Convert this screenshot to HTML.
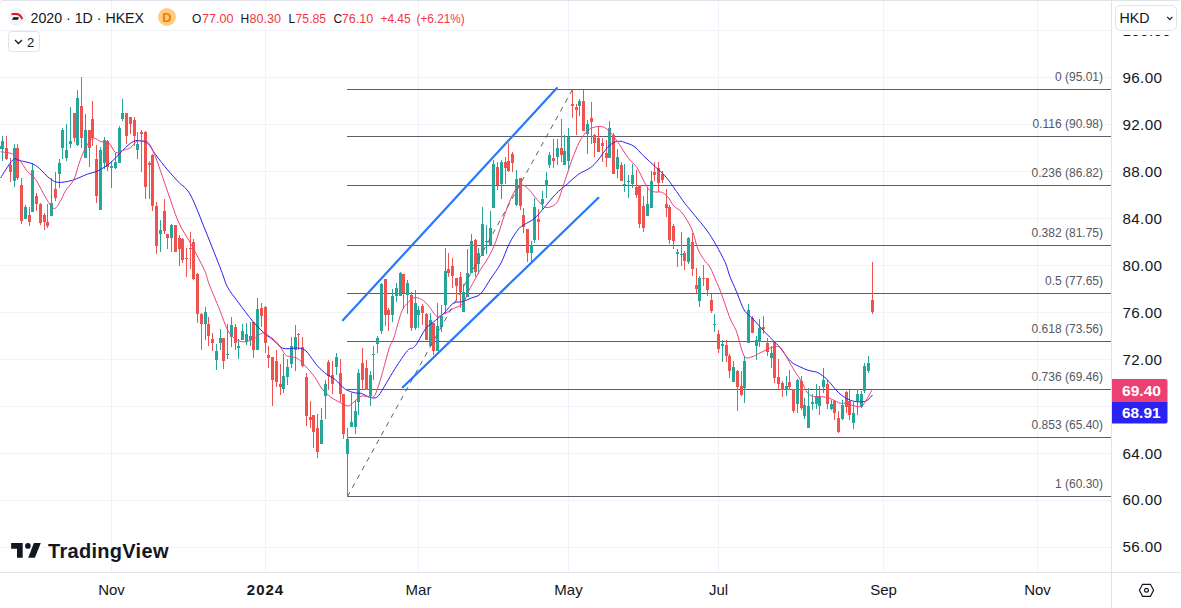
<!DOCTYPE html><html><head><meta charset="utf-8"><title>2020 HKEX chart</title><style>
html,body{margin:0;padding:0;background:#fff}
body{width:1181px;height:608px;overflow:hidden;position:relative;font-family:"Liberation Sans",sans-serif}
svg{position:absolute;left:0;top:0}
text{font-family:"Liberation Sans",sans-serif}
</style></head><body>
<svg width="1181" height="608" viewBox="0 0 1181 608">
<g shape-rendering="crispEdges" fill="#f0f3fa">
<rect x="0" y="547" width="1111" height="1"/>
<rect x="0" y="500" width="1111" height="1"/>
<rect x="0" y="453" width="1111" height="1"/>
<rect x="0" y="406" width="1111" height="1"/>
<rect x="0" y="359" width="1111" height="1"/>
<rect x="0" y="312" width="1111" height="1"/>
<rect x="0" y="265" width="1111" height="1"/>
<rect x="0" y="218" width="1111" height="1"/>
<rect x="0" y="171" width="1111" height="1"/>
<rect x="0" y="124" width="1111" height="1"/>
<rect x="0" y="77" width="1111" height="1"/>
<rect x="0" y="30" width="1111" height="1"/>
<rect x="111" y="0" width="1" height="572"/>
<rect x="265" y="0" width="1" height="572"/>
<rect x="418" y="0" width="1" height="572"/>
<rect x="568" y="0" width="1" height="572"/>
<rect x="718" y="0" width="1" height="572"/>
<rect x="883" y="0" width="1" height="572"/>
<rect x="1037" y="0" width="1" height="572"/>
</g>
<g shape-rendering="crispEdges" fill="#5d606b">
<rect x="347" y="89" width="764" height="1"/>
<rect x="347" y="136" width="764" height="1"/>
<rect x="347" y="185" width="764" height="1"/>
<rect x="347" y="245" width="764" height="1"/>
<rect x="347" y="293" width="764" height="1"/>
<rect x="347" y="341" width="764" height="1"/>
<rect x="347" y="389" width="764" height="1"/>
<rect x="347" y="437" width="764" height="1"/>
<rect x="347" y="496" width="764" height="1"/>
</g>
<g font-size="12" fill="#555863" text-anchor="end">
<text x="1103" y="81">0 (95.01)</text>
<text x="1103" y="128">0.116 (90.98)</text>
<text x="1103" y="177">0.236 (86.82)</text>
<text x="1103" y="237">0.382 (81.75)</text>
<text x="1103" y="285">0.5 (77.65)</text>
<text x="1103" y="333">0.618 (73.56)</text>
<text x="1103" y="381">0.736 (69.46)</text>
<text x="1103" y="429">0.853 (65.40)</text>
<text x="1103" y="488">1 (60.30)</text>
</g>
<g shape-rendering="crispEdges">
<rect x="-1" y="146" width="1" height="3" fill="#26a69a"/>
<rect x="-2" y="146" width="3" height="3" fill="#26a69a"/>
<rect x="2" y="136" width="1" height="25" fill="#26a69a"/>
<rect x="1" y="141" width="3" height="8" fill="#26a69a"/>
<rect x="6" y="136" width="1" height="24" fill="#ef5350"/>
<rect x="5" y="148" width="3" height="11" fill="#ef5350"/>
<rect x="10" y="158" width="1" height="24" fill="#ef5350"/>
<rect x="9" y="165" width="3" height="7" fill="#ef5350"/>
<rect x="14" y="144" width="1" height="43" fill="#26a69a"/>
<rect x="13" y="148" width="3" height="33" fill="#26a69a"/>
<rect x="17" y="144" width="1" height="36" fill="#ef5350"/>
<rect x="16" y="148" width="3" height="30" fill="#ef5350"/>
<rect x="21" y="178" width="1" height="46" fill="#ef5350"/>
<rect x="20" y="185" width="3" height="36" fill="#ef5350"/>
<rect x="25" y="205" width="1" height="14" fill="#26a69a"/>
<rect x="24" y="207" width="3" height="12" fill="#26a69a"/>
<rect x="29" y="207" width="1" height="19" fill="#ef5350"/>
<rect x="28" y="215" width="3" height="7" fill="#ef5350"/>
<rect x="32" y="163" width="1" height="49" fill="#26a69a"/>
<rect x="31" y="170" width="3" height="42" fill="#26a69a"/>
<rect x="36" y="193" width="1" height="18" fill="#ef5350"/>
<rect x="35" y="196" width="3" height="8" fill="#ef5350"/>
<rect x="40" y="203" width="1" height="22" fill="#ef5350"/>
<rect x="39" y="204" width="3" height="19" fill="#ef5350"/>
<rect x="44" y="213" width="1" height="17" fill="#ef5350"/>
<rect x="43" y="215" width="3" height="7" fill="#ef5350"/>
<rect x="47" y="204" width="1" height="24" fill="#ef5350"/>
<rect x="46" y="222" width="3" height="4" fill="#ef5350"/>
<rect x="51" y="178" width="1" height="38" fill="#26a69a"/>
<rect x="50" y="203" width="3" height="13" fill="#26a69a"/>
<rect x="55" y="172" width="1" height="29" fill="#ef5350"/>
<rect x="54" y="189" width="3" height="9" fill="#ef5350"/>
<rect x="59" y="159" width="1" height="29" fill="#26a69a"/>
<rect x="58" y="163" width="3" height="11" fill="#26a69a"/>
<rect x="62" y="128" width="1" height="31" fill="#26a69a"/>
<rect x="61" y="130" width="3" height="18" fill="#26a69a"/>
<rect x="66" y="124" width="1" height="37" fill="#26a69a"/>
<rect x="65" y="150" width="3" height="8" fill="#26a69a"/>
<rect x="70" y="107" width="1" height="41" fill="#26a69a"/>
<rect x="69" y="141" width="3" height="3" fill="#26a69a"/>
<rect x="74" y="113" width="1" height="29" fill="#ef5350"/>
<rect x="73" y="113" width="3" height="25" fill="#ef5350"/>
<rect x="77" y="90" width="1" height="56" fill="#26a69a"/>
<rect x="76" y="98" width="3" height="47" fill="#26a69a"/>
<rect x="81" y="77" width="1" height="71" fill="#ef5350"/>
<rect x="80" y="106" width="3" height="32" fill="#ef5350"/>
<rect x="85" y="114" width="1" height="44" fill="#26a69a"/>
<rect x="84" y="130" width="3" height="28" fill="#26a69a"/>
<rect x="89" y="130" width="1" height="37" fill="#ef5350"/>
<rect x="88" y="130" width="3" height="18" fill="#ef5350"/>
<rect x="92" y="101" width="1" height="45" fill="#ef5350"/>
<rect x="91" y="119" width="3" height="19" fill="#ef5350"/>
<rect x="96" y="145" width="1" height="58" fill="#ef5350"/>
<rect x="95" y="159" width="3" height="37" fill="#ef5350"/>
<rect x="100" y="147" width="1" height="63" fill="#26a69a"/>
<rect x="99" y="150" width="3" height="60" fill="#26a69a"/>
<rect x="104" y="137" width="1" height="32" fill="#26a69a"/>
<rect x="103" y="140" width="3" height="23" fill="#26a69a"/>
<rect x="107" y="140" width="1" height="31" fill="#ef5350"/>
<rect x="106" y="141" width="3" height="26" fill="#ef5350"/>
<rect x="111" y="161" width="1" height="27" fill="#26a69a"/>
<rect x="110" y="166" width="3" height="2" fill="#26a69a"/>
<rect x="115" y="153" width="1" height="16" fill="#26a69a"/>
<rect x="114" y="162" width="3" height="6" fill="#26a69a"/>
<rect x="119" y="126" width="1" height="37" fill="#26a69a"/>
<rect x="118" y="128" width="3" height="35" fill="#26a69a"/>
<rect x="122" y="99" width="1" height="22" fill="#26a69a"/>
<rect x="121" y="113" width="3" height="6" fill="#26a69a"/>
<rect x="126" y="113" width="1" height="31" fill="#ef5350"/>
<rect x="125" y="113" width="3" height="23" fill="#ef5350"/>
<rect x="130" y="117" width="1" height="17" fill="#ef5350"/>
<rect x="129" y="117" width="3" height="7" fill="#ef5350"/>
<rect x="134" y="117" width="1" height="29" fill="#ef5350"/>
<rect x="133" y="120" width="3" height="16" fill="#ef5350"/>
<rect x="137" y="132" width="1" height="27" fill="#26a69a"/>
<rect x="136" y="144" width="3" height="6" fill="#26a69a"/>
<rect x="141" y="130" width="1" height="42" fill="#ef5350"/>
<rect x="140" y="132" width="3" height="2" fill="#ef5350"/>
<rect x="145" y="131" width="1" height="68" fill="#ef5350"/>
<rect x="144" y="132" width="3" height="55" fill="#ef5350"/>
<rect x="149" y="161" width="1" height="38" fill="#ef5350"/>
<rect x="148" y="163" width="3" height="2" fill="#ef5350"/>
<rect x="152" y="154" width="1" height="57" fill="#ef5350"/>
<rect x="151" y="155" width="3" height="51" fill="#ef5350"/>
<rect x="156" y="202" width="1" height="52" fill="#ef5350"/>
<rect x="155" y="206" width="3" height="40" fill="#ef5350"/>
<rect x="160" y="220" width="1" height="32" fill="#26a69a"/>
<rect x="159" y="230" width="3" height="4" fill="#26a69a"/>
<rect x="164" y="199" width="1" height="35" fill="#ef5350"/>
<rect x="163" y="211" width="3" height="20" fill="#ef5350"/>
<rect x="167" y="234" width="1" height="15" fill="#ef5350"/>
<rect x="166" y="234" width="3" height="4" fill="#ef5350"/>
<rect x="171" y="224" width="1" height="28" fill="#26a69a"/>
<rect x="170" y="225" width="3" height="13" fill="#26a69a"/>
<rect x="175" y="225" width="1" height="27" fill="#ef5350"/>
<rect x="174" y="225" width="3" height="27" fill="#ef5350"/>
<rect x="179" y="235" width="1" height="31" fill="#ef5350"/>
<rect x="178" y="238" width="3" height="11" fill="#ef5350"/>
<rect x="182" y="238" width="1" height="25" fill="#ef5350"/>
<rect x="181" y="239" width="3" height="21" fill="#ef5350"/>
<rect x="186" y="248" width="1" height="29" fill="#ef5350"/>
<rect x="185" y="258" width="3" height="1" fill="#ef5350"/>
<rect x="190" y="232" width="1" height="37" fill="#ef5350"/>
<rect x="189" y="248" width="3" height="1" fill="#ef5350"/>
<rect x="193" y="239" width="1" height="41" fill="#ef5350"/>
<rect x="192" y="242" width="3" height="37" fill="#ef5350"/>
<rect x="197" y="273" width="1" height="50" fill="#ef5350"/>
<rect x="196" y="274" width="3" height="40" fill="#ef5350"/>
<rect x="201" y="313" width="1" height="37" fill="#ef5350"/>
<rect x="200" y="314" width="3" height="10" fill="#ef5350"/>
<rect x="205" y="307" width="1" height="33" fill="#26a69a"/>
<rect x="204" y="312" width="3" height="12" fill="#26a69a"/>
<rect x="208" y="317" width="1" height="29" fill="#ef5350"/>
<rect x="207" y="324" width="3" height="12" fill="#ef5350"/>
<rect x="212" y="333" width="1" height="18" fill="#ef5350"/>
<rect x="211" y="339" width="3" height="4" fill="#ef5350"/>
<rect x="216" y="344" width="1" height="26" fill="#26a69a"/>
<rect x="215" y="351" width="3" height="9" fill="#26a69a"/>
<rect x="220" y="329" width="1" height="21" fill="#26a69a"/>
<rect x="219" y="338" width="3" height="5" fill="#26a69a"/>
<rect x="223" y="338" width="1" height="31" fill="#ef5350"/>
<rect x="222" y="338" width="3" height="23" fill="#ef5350"/>
<rect x="227" y="324" width="1" height="35" fill="#26a69a"/>
<rect x="226" y="354" width="3" height="1" fill="#26a69a"/>
<rect x="231" y="317" width="1" height="30" fill="#26a69a"/>
<rect x="230" y="325" width="3" height="12" fill="#26a69a"/>
<rect x="235" y="324" width="1" height="26" fill="#ef5350"/>
<rect x="234" y="327" width="3" height="16" fill="#ef5350"/>
<rect x="238" y="339" width="1" height="20" fill="#26a69a"/>
<rect x="237" y="346" width="3" height="2" fill="#26a69a"/>
<rect x="242" y="324" width="1" height="16" fill="#26a69a"/>
<rect x="241" y="331" width="3" height="9" fill="#26a69a"/>
<rect x="246" y="323" width="1" height="22" fill="#26a69a"/>
<rect x="245" y="334" width="3" height="8" fill="#26a69a"/>
<rect x="250" y="322" width="1" height="24" fill="#26a69a"/>
<rect x="249" y="336" width="3" height="4" fill="#26a69a"/>
<rect x="253" y="322" width="1" height="36" fill="#ef5350"/>
<rect x="252" y="322" width="3" height="28" fill="#ef5350"/>
<rect x="257" y="298" width="1" height="52" fill="#26a69a"/>
<rect x="256" y="309" width="3" height="41" fill="#26a69a"/>
<rect x="261" y="303" width="1" height="24" fill="#ef5350"/>
<rect x="260" y="308" width="3" height="8" fill="#ef5350"/>
<rect x="265" y="306" width="1" height="47" fill="#ef5350"/>
<rect x="264" y="307" width="3" height="36" fill="#ef5350"/>
<rect x="268" y="346" width="1" height="22" fill="#ef5350"/>
<rect x="267" y="355" width="3" height="3" fill="#ef5350"/>
<rect x="272" y="357" width="1" height="49" fill="#ef5350"/>
<rect x="271" y="357" width="3" height="23" fill="#ef5350"/>
<rect x="276" y="350" width="1" height="37" fill="#ef5350"/>
<rect x="275" y="361" width="3" height="21" fill="#ef5350"/>
<rect x="280" y="364" width="1" height="31" fill="#ef5350"/>
<rect x="279" y="384" width="3" height="3" fill="#ef5350"/>
<rect x="283" y="354" width="1" height="39" fill="#26a69a"/>
<rect x="282" y="376" width="3" height="13" fill="#26a69a"/>
<rect x="287" y="359" width="1" height="26" fill="#26a69a"/>
<rect x="286" y="367" width="3" height="10" fill="#26a69a"/>
<rect x="291" y="337" width="1" height="31" fill="#26a69a"/>
<rect x="290" y="346" width="3" height="18" fill="#26a69a"/>
<rect x="295" y="325" width="1" height="46" fill="#26a69a"/>
<rect x="294" y="337" width="3" height="13" fill="#26a69a"/>
<rect x="298" y="333" width="1" height="17" fill="#ef5350"/>
<rect x="297" y="334" width="3" height="1" fill="#ef5350"/>
<rect x="302" y="337" width="1" height="30" fill="#ef5350"/>
<rect x="301" y="347" width="3" height="19" fill="#ef5350"/>
<rect x="306" y="373" width="1" height="53" fill="#ef5350"/>
<rect x="305" y="377" width="3" height="39" fill="#ef5350"/>
<rect x="310" y="401" width="1" height="27" fill="#ef5350"/>
<rect x="309" y="417" width="3" height="3" fill="#ef5350"/>
<rect x="313" y="415" width="1" height="33" fill="#ef5350"/>
<rect x="312" y="415" width="3" height="17" fill="#ef5350"/>
<rect x="317" y="414" width="1" height="44" fill="#ef5350"/>
<rect x="316" y="428" width="3" height="24" fill="#ef5350"/>
<rect x="321" y="408" width="1" height="36" fill="#26a69a"/>
<rect x="320" y="420" width="3" height="24" fill="#26a69a"/>
<rect x="325" y="380" width="1" height="39" fill="#26a69a"/>
<rect x="324" y="384" width="3" height="12" fill="#26a69a"/>
<rect x="328" y="360" width="1" height="30" fill="#ef5350"/>
<rect x="327" y="362" width="3" height="14" fill="#ef5350"/>
<rect x="332" y="361" width="1" height="33" fill="#ef5350"/>
<rect x="331" y="375" width="3" height="9" fill="#ef5350"/>
<rect x="336" y="353" width="1" height="22" fill="#26a69a"/>
<rect x="335" y="357" width="3" height="10" fill="#26a69a"/>
<rect x="340" y="359" width="1" height="43" fill="#ef5350"/>
<rect x="339" y="373" width="3" height="21" fill="#ef5350"/>
<rect x="343" y="394" width="1" height="45" fill="#ef5350"/>
<rect x="342" y="394" width="3" height="40" fill="#ef5350"/>
<rect x="347" y="428" width="1" height="69" fill="#26a69a"/>
<rect x="346" y="439" width="3" height="15" fill="#26a69a"/>
<rect x="351" y="393" width="1" height="34" fill="#26a69a"/>
<rect x="350" y="422" width="3" height="5" fill="#26a69a"/>
<rect x="355" y="400" width="1" height="34" fill="#26a69a"/>
<rect x="354" y="411" width="3" height="16" fill="#26a69a"/>
<rect x="358" y="369" width="1" height="46" fill="#26a69a"/>
<rect x="357" y="373" width="3" height="29" fill="#26a69a"/>
<rect x="362" y="348" width="1" height="42" fill="#ef5350"/>
<rect x="361" y="363" width="3" height="17" fill="#ef5350"/>
<rect x="366" y="360" width="1" height="30" fill="#ef5350"/>
<rect x="365" y="368" width="3" height="22" fill="#ef5350"/>
<rect x="370" y="371" width="1" height="35" fill="#26a69a"/>
<rect x="369" y="375" width="3" height="21" fill="#26a69a"/>
<rect x="373" y="346" width="1" height="34" fill="#26a69a"/>
<rect x="372" y="354" width="3" height="1" fill="#26a69a"/>
<rect x="377" y="336" width="1" height="17" fill="#26a69a"/>
<rect x="376" y="338" width="3" height="6" fill="#26a69a"/>
<rect x="381" y="283" width="1" height="51" fill="#26a69a"/>
<rect x="380" y="284" width="3" height="47" fill="#26a69a"/>
<rect x="385" y="279" width="1" height="47" fill="#ef5350"/>
<rect x="384" y="279" width="3" height="36" fill="#ef5350"/>
<rect x="388" y="308" width="1" height="23" fill="#ef5350"/>
<rect x="387" y="310" width="3" height="5" fill="#ef5350"/>
<rect x="392" y="289" width="1" height="33" fill="#26a69a"/>
<rect x="391" y="296" width="3" height="19" fill="#26a69a"/>
<rect x="396" y="283" width="1" height="19" fill="#26a69a"/>
<rect x="395" y="288" width="3" height="8" fill="#26a69a"/>
<rect x="400" y="272" width="1" height="24" fill="#26a69a"/>
<rect x="399" y="273" width="3" height="23" fill="#26a69a"/>
<rect x="403" y="274" width="1" height="35" fill="#ef5350"/>
<rect x="402" y="274" width="3" height="19" fill="#ef5350"/>
<rect x="407" y="280" width="1" height="34" fill="#26a69a"/>
<rect x="406" y="283" width="3" height="12" fill="#26a69a"/>
<rect x="411" y="292" width="1" height="39" fill="#ef5350"/>
<rect x="410" y="295" width="3" height="33" fill="#ef5350"/>
<rect x="415" y="290" width="1" height="40" fill="#26a69a"/>
<rect x="414" y="303" width="3" height="25" fill="#26a69a"/>
<rect x="418" y="306" width="1" height="22" fill="#26a69a"/>
<rect x="417" y="310" width="3" height="5" fill="#26a69a"/>
<rect x="422" y="304" width="1" height="21" fill="#ef5350"/>
<rect x="421" y="306" width="3" height="7" fill="#ef5350"/>
<rect x="426" y="313" width="1" height="27" fill="#ef5350"/>
<rect x="425" y="314" width="3" height="26" fill="#ef5350"/>
<rect x="430" y="313" width="1" height="33" fill="#26a69a"/>
<rect x="429" y="320" width="3" height="26" fill="#26a69a"/>
<rect x="433" y="323" width="1" height="32" fill="#ef5350"/>
<rect x="432" y="323" width="3" height="28" fill="#ef5350"/>
<rect x="437" y="303" width="1" height="48" fill="#26a69a"/>
<rect x="436" y="326" width="3" height="25" fill="#26a69a"/>
<rect x="441" y="305" width="1" height="27" fill="#26a69a"/>
<rect x="440" y="316" width="3" height="11" fill="#26a69a"/>
<rect x="445" y="248" width="1" height="66" fill="#26a69a"/>
<rect x="444" y="271" width="3" height="34" fill="#26a69a"/>
<rect x="448" y="253" width="1" height="24" fill="#ef5350"/>
<rect x="447" y="269" width="3" height="4" fill="#ef5350"/>
<rect x="452" y="258" width="1" height="30" fill="#ef5350"/>
<rect x="451" y="266" width="3" height="10" fill="#ef5350"/>
<rect x="456" y="278" width="1" height="23" fill="#ef5350"/>
<rect x="455" y="278" width="3" height="8" fill="#ef5350"/>
<rect x="460" y="272" width="1" height="36" fill="#ef5350"/>
<rect x="459" y="277" width="3" height="15" fill="#ef5350"/>
<rect x="463" y="284" width="1" height="28" fill="#26a69a"/>
<rect x="462" y="292" width="3" height="20" fill="#26a69a"/>
<rect x="467" y="249" width="1" height="48" fill="#26a69a"/>
<rect x="466" y="273" width="3" height="24" fill="#26a69a"/>
<rect x="471" y="234" width="1" height="39" fill="#26a69a"/>
<rect x="470" y="241" width="3" height="32" fill="#26a69a"/>
<rect x="475" y="239" width="1" height="38" fill="#ef5350"/>
<rect x="474" y="240" width="3" height="32" fill="#ef5350"/>
<rect x="478" y="248" width="1" height="26" fill="#26a69a"/>
<rect x="477" y="253" width="3" height="11" fill="#26a69a"/>
<rect x="482" y="207" width="1" height="49" fill="#26a69a"/>
<rect x="481" y="224" width="3" height="32" fill="#26a69a"/>
<rect x="486" y="225" width="1" height="29" fill="#26a69a"/>
<rect x="485" y="241" width="3" height="1" fill="#26a69a"/>
<rect x="490" y="211" width="1" height="34" fill="#26a69a"/>
<rect x="489" y="228" width="3" height="17" fill="#26a69a"/>
<rect x="493" y="160" width="1" height="48" fill="#26a69a"/>
<rect x="492" y="164" width="3" height="44" fill="#26a69a"/>
<rect x="497" y="162" width="1" height="28" fill="#ef5350"/>
<rect x="496" y="167" width="3" height="18" fill="#ef5350"/>
<rect x="501" y="160" width="1" height="39" fill="#26a69a"/>
<rect x="500" y="162" width="3" height="22" fill="#26a69a"/>
<rect x="505" y="157" width="1" height="27" fill="#ef5350"/>
<rect x="504" y="162" width="3" height="6" fill="#ef5350"/>
<rect x="508" y="143" width="1" height="29" fill="#ef5350"/>
<rect x="507" y="161" width="3" height="10" fill="#ef5350"/>
<rect x="512" y="152" width="1" height="20" fill="#ef5350"/>
<rect x="511" y="154" width="3" height="9" fill="#ef5350"/>
<rect x="516" y="170" width="1" height="36" fill="#26a69a"/>
<rect x="515" y="179" width="3" height="26" fill="#26a69a"/>
<rect x="520" y="178" width="1" height="32" fill="#ef5350"/>
<rect x="519" y="178" width="3" height="28" fill="#ef5350"/>
<rect x="523" y="208" width="1" height="25" fill="#ef5350"/>
<rect x="522" y="215" width="3" height="12" fill="#ef5350"/>
<rect x="527" y="229" width="1" height="33" fill="#ef5350"/>
<rect x="526" y="229" width="3" height="24" fill="#ef5350"/>
<rect x="531" y="241" width="1" height="22" fill="#26a69a"/>
<rect x="530" y="246" width="3" height="7" fill="#26a69a"/>
<rect x="534" y="198" width="1" height="45" fill="#26a69a"/>
<rect x="533" y="207" width="3" height="33" fill="#26a69a"/>
<rect x="538" y="209" width="1" height="31" fill="#ef5350"/>
<rect x="537" y="219" width="3" height="3" fill="#ef5350"/>
<rect x="542" y="191" width="1" height="18" fill="#26a69a"/>
<rect x="541" y="199" width="3" height="5" fill="#26a69a"/>
<rect x="546" y="172" width="1" height="26" fill="#26a69a"/>
<rect x="545" y="180" width="3" height="6" fill="#26a69a"/>
<rect x="549" y="152" width="1" height="16" fill="#26a69a"/>
<rect x="548" y="155" width="3" height="10" fill="#26a69a"/>
<rect x="553" y="139" width="1" height="29" fill="#ef5350"/>
<rect x="552" y="158" width="3" height="3" fill="#ef5350"/>
<rect x="557" y="139" width="1" height="26" fill="#26a69a"/>
<rect x="556" y="148" width="3" height="9" fill="#26a69a"/>
<rect x="561" y="119" width="1" height="43" fill="#ef5350"/>
<rect x="560" y="148" width="3" height="7" fill="#ef5350"/>
<rect x="564" y="135" width="1" height="30" fill="#26a69a"/>
<rect x="563" y="151" width="3" height="14" fill="#26a69a"/>
<rect x="568" y="128" width="1" height="42" fill="#26a69a"/>
<rect x="567" y="137" width="3" height="24" fill="#26a69a"/>
<rect x="572" y="90" width="1" height="28" fill="#ef5350"/>
<rect x="571" y="104" width="3" height="2" fill="#ef5350"/>
<rect x="576" y="104" width="1" height="31" fill="#ef5350"/>
<rect x="575" y="107" width="3" height="3" fill="#ef5350"/>
<rect x="579" y="99" width="1" height="17" fill="#26a69a"/>
<rect x="578" y="101" width="3" height="5" fill="#26a69a"/>
<rect x="583" y="90" width="1" height="41" fill="#ef5350"/>
<rect x="582" y="101" width="3" height="30" fill="#ef5350"/>
<rect x="587" y="120" width="1" height="34" fill="#26a69a"/>
<rect x="586" y="124" width="3" height="10" fill="#26a69a"/>
<rect x="591" y="102" width="1" height="42" fill="#ef5350"/>
<rect x="590" y="118" width="3" height="4" fill="#ef5350"/>
<rect x="594" y="134" width="1" height="23" fill="#ef5350"/>
<rect x="593" y="135" width="3" height="8" fill="#ef5350"/>
<rect x="598" y="126" width="1" height="26" fill="#ef5350"/>
<rect x="597" y="138" width="3" height="14" fill="#ef5350"/>
<rect x="602" y="138" width="1" height="24" fill="#ef5350"/>
<rect x="601" y="143" width="3" height="3" fill="#ef5350"/>
<rect x="606" y="140" width="1" height="27" fill="#ef5350"/>
<rect x="605" y="153" width="3" height="5" fill="#ef5350"/>
<rect x="609" y="121" width="1" height="37" fill="#26a69a"/>
<rect x="608" y="128" width="3" height="30" fill="#26a69a"/>
<rect x="613" y="133" width="1" height="41" fill="#ef5350"/>
<rect x="612" y="135" width="3" height="39" fill="#ef5350"/>
<rect x="617" y="149" width="1" height="29" fill="#26a69a"/>
<rect x="616" y="157" width="3" height="12" fill="#26a69a"/>
<rect x="621" y="162" width="1" height="19" fill="#ef5350"/>
<rect x="620" y="165" width="3" height="16" fill="#ef5350"/>
<rect x="624" y="164" width="1" height="28" fill="#26a69a"/>
<rect x="623" y="184" width="3" height="1" fill="#26a69a"/>
<rect x="628" y="175" width="1" height="23" fill="#26a69a"/>
<rect x="627" y="181" width="3" height="1" fill="#26a69a"/>
<rect x="632" y="164" width="1" height="24" fill="#26a69a"/>
<rect x="631" y="175" width="3" height="9" fill="#26a69a"/>
<rect x="636" y="170" width="1" height="28" fill="#ef5350"/>
<rect x="635" y="187" width="3" height="8" fill="#ef5350"/>
<rect x="639" y="185" width="1" height="43" fill="#ef5350"/>
<rect x="638" y="185" width="3" height="39" fill="#ef5350"/>
<rect x="643" y="196" width="1" height="36" fill="#ef5350"/>
<rect x="642" y="206" width="3" height="22" fill="#ef5350"/>
<rect x="647" y="187" width="1" height="29" fill="#26a69a"/>
<rect x="646" y="204" width="3" height="12" fill="#26a69a"/>
<rect x="651" y="171" width="1" height="37" fill="#26a69a"/>
<rect x="650" y="181" width="3" height="27" fill="#26a69a"/>
<rect x="654" y="162" width="1" height="19" fill="#ef5350"/>
<rect x="653" y="172" width="3" height="3" fill="#ef5350"/>
<rect x="658" y="162" width="1" height="30" fill="#ef5350"/>
<rect x="657" y="168" width="3" height="15" fill="#ef5350"/>
<rect x="662" y="171" width="1" height="12" fill="#ef5350"/>
<rect x="661" y="174" width="3" height="6" fill="#ef5350"/>
<rect x="666" y="189" width="1" height="28" fill="#ef5350"/>
<rect x="665" y="204" width="3" height="4" fill="#ef5350"/>
<rect x="669" y="205" width="1" height="39" fill="#ef5350"/>
<rect x="668" y="207" width="3" height="33" fill="#ef5350"/>
<rect x="673" y="224" width="1" height="25" fill="#ef5350"/>
<rect x="672" y="226" width="3" height="15" fill="#ef5350"/>
<rect x="677" y="249" width="1" height="18" fill="#26a69a"/>
<rect x="676" y="252" width="3" height="2" fill="#26a69a"/>
<rect x="681" y="232" width="1" height="34" fill="#26a69a"/>
<rect x="680" y="254" width="3" height="1" fill="#26a69a"/>
<rect x="684" y="251" width="1" height="19" fill="#ef5350"/>
<rect x="683" y="253" width="3" height="8" fill="#ef5350"/>
<rect x="688" y="237" width="1" height="27" fill="#26a69a"/>
<rect x="687" y="238" width="3" height="24" fill="#26a69a"/>
<rect x="692" y="233" width="1" height="43" fill="#ef5350"/>
<rect x="691" y="242" width="3" height="27" fill="#ef5350"/>
<rect x="696" y="268" width="1" height="25" fill="#ef5350"/>
<rect x="695" y="285" width="3" height="4" fill="#ef5350"/>
<rect x="699" y="276" width="1" height="31" fill="#26a69a"/>
<rect x="698" y="278" width="3" height="23" fill="#26a69a"/>
<rect x="703" y="265" width="1" height="21" fill="#ef5350"/>
<rect x="702" y="278" width="3" height="1" fill="#ef5350"/>
<rect x="707" y="278" width="1" height="18" fill="#ef5350"/>
<rect x="706" y="278" width="3" height="12" fill="#ef5350"/>
<rect x="711" y="294" width="1" height="19" fill="#ef5350"/>
<rect x="710" y="300" width="3" height="11" fill="#ef5350"/>
<rect x="714" y="314" width="1" height="18" fill="#26a69a"/>
<rect x="713" y="324" width="3" height="1" fill="#26a69a"/>
<rect x="718" y="330" width="1" height="23" fill="#ef5350"/>
<rect x="717" y="334" width="3" height="15" fill="#ef5350"/>
<rect x="722" y="340" width="1" height="22" fill="#26a69a"/>
<rect x="721" y="344" width="3" height="2" fill="#26a69a"/>
<rect x="726" y="340" width="1" height="22" fill="#ef5350"/>
<rect x="725" y="345" width="3" height="11" fill="#ef5350"/>
<rect x="729" y="354" width="1" height="24" fill="#ef5350"/>
<rect x="728" y="356" width="3" height="15" fill="#ef5350"/>
<rect x="733" y="361" width="1" height="21" fill="#26a69a"/>
<rect x="732" y="367" width="3" height="15" fill="#26a69a"/>
<rect x="737" y="370" width="1" height="41" fill="#ef5350"/>
<rect x="736" y="371" width="3" height="16" fill="#ef5350"/>
<rect x="741" y="371" width="1" height="25" fill="#ef5350"/>
<rect x="740" y="386" width="3" height="9" fill="#ef5350"/>
<rect x="744" y="356" width="1" height="47" fill="#26a69a"/>
<rect x="743" y="361" width="3" height="27" fill="#26a69a"/>
<rect x="748" y="304" width="1" height="39" fill="#26a69a"/>
<rect x="747" y="310" width="3" height="33" fill="#26a69a"/>
<rect x="752" y="316" width="1" height="17" fill="#ef5350"/>
<rect x="751" y="318" width="3" height="15" fill="#ef5350"/>
<rect x="756" y="336" width="1" height="24" fill="#26a69a"/>
<rect x="755" y="340" width="3" height="6" fill="#26a69a"/>
<rect x="759" y="319" width="1" height="28" fill="#26a69a"/>
<rect x="758" y="328" width="3" height="14" fill="#26a69a"/>
<rect x="763" y="316" width="1" height="18" fill="#ef5350"/>
<rect x="762" y="327" width="3" height="2" fill="#ef5350"/>
<rect x="767" y="338" width="1" height="18" fill="#ef5350"/>
<rect x="766" y="343" width="3" height="9" fill="#ef5350"/>
<rect x="771" y="346" width="1" height="22" fill="#26a69a"/>
<rect x="770" y="353" width="3" height="5" fill="#26a69a"/>
<rect x="774" y="341" width="1" height="42" fill="#ef5350"/>
<rect x="773" y="341" width="3" height="37" fill="#ef5350"/>
<rect x="778" y="359" width="1" height="30" fill="#ef5350"/>
<rect x="777" y="377" width="3" height="7" fill="#ef5350"/>
<rect x="782" y="381" width="1" height="16" fill="#ef5350"/>
<rect x="781" y="383" width="3" height="7" fill="#ef5350"/>
<rect x="786" y="376" width="1" height="20" fill="#26a69a"/>
<rect x="785" y="386" width="3" height="4" fill="#26a69a"/>
<rect x="789" y="370" width="1" height="20" fill="#ef5350"/>
<rect x="788" y="382" width="3" height="5" fill="#ef5350"/>
<rect x="793" y="389" width="1" height="24" fill="#ef5350"/>
<rect x="792" y="389" width="3" height="22" fill="#ef5350"/>
<rect x="797" y="379" width="1" height="34" fill="#26a69a"/>
<rect x="796" y="380" width="3" height="24" fill="#26a69a"/>
<rect x="801" y="376" width="1" height="34" fill="#ef5350"/>
<rect x="800" y="381" width="3" height="27" fill="#ef5350"/>
<rect x="804" y="398" width="1" height="21" fill="#26a69a"/>
<rect x="803" y="405" width="3" height="11" fill="#26a69a"/>
<rect x="808" y="388" width="1" height="40" fill="#26a69a"/>
<rect x="807" y="406" width="3" height="22" fill="#26a69a"/>
<rect x="812" y="394" width="1" height="16" fill="#26a69a"/>
<rect x="811" y="402" width="3" height="2" fill="#26a69a"/>
<rect x="816" y="384" width="1" height="25" fill="#26a69a"/>
<rect x="815" y="396" width="3" height="8" fill="#26a69a"/>
<rect x="819" y="386" width="1" height="29" fill="#26a69a"/>
<rect x="818" y="397" width="3" height="9" fill="#26a69a"/>
<rect x="823" y="368" width="1" height="25" fill="#26a69a"/>
<rect x="822" y="380" width="3" height="7" fill="#26a69a"/>
<rect x="827" y="380" width="1" height="29" fill="#ef5350"/>
<rect x="826" y="384" width="3" height="20" fill="#ef5350"/>
<rect x="831" y="400" width="1" height="10" fill="#26a69a"/>
<rect x="830" y="404" width="3" height="5" fill="#26a69a"/>
<rect x="834" y="400" width="1" height="20" fill="#ef5350"/>
<rect x="833" y="401" width="3" height="12" fill="#ef5350"/>
<rect x="838" y="411" width="1" height="22" fill="#ef5350"/>
<rect x="837" y="418" width="3" height="14" fill="#ef5350"/>
<rect x="842" y="400" width="1" height="20" fill="#26a69a"/>
<rect x="841" y="405" width="3" height="14" fill="#26a69a"/>
<rect x="846" y="391" width="1" height="22" fill="#ef5350"/>
<rect x="845" y="392" width="3" height="15" fill="#ef5350"/>
<rect x="849" y="390" width="1" height="30" fill="#ef5350"/>
<rect x="848" y="401" width="3" height="14" fill="#ef5350"/>
<rect x="853" y="402" width="1" height="27" fill="#26a69a"/>
<rect x="852" y="413" width="3" height="10" fill="#26a69a"/>
<rect x="857" y="389" width="1" height="26" fill="#26a69a"/>
<rect x="856" y="394" width="3" height="7" fill="#26a69a"/>
<rect x="861" y="391" width="1" height="17" fill="#26a69a"/>
<rect x="860" y="394" width="3" height="13" fill="#26a69a"/>
<rect x="864" y="363" width="1" height="30" fill="#26a69a"/>
<rect x="863" y="366" width="3" height="25" fill="#26a69a"/>
<rect x="868" y="356" width="1" height="17" fill="#26a69a"/>
<rect x="867" y="363" width="3" height="8" fill="#26a69a"/>
<rect x="872" y="262" width="1" height="52" fill="#ef5350"/>
<rect x="871" y="300" width="3" height="12" fill="#ef5350"/>
</g>
<path d="M0.50 178.00 C2.53 175.00 9.53 162.90 12.70 160.00 C15.87 157.10 16.12 159.93 19.50 160.60 C22.88 161.27 29.40 162.43 33.00 164.00 C36.60 165.57 38.62 167.83 41.10 170.00 C43.58 172.17 45.17 174.95 47.90 177.00 C50.63 179.05 53.43 181.75 57.50 182.30 C61.57 182.85 67.35 181.65 72.30 180.30 C77.25 178.95 82.90 175.78 87.20 174.20 C91.50 172.62 94.05 172.83 98.10 170.80 C102.15 168.77 107.43 165.38 111.50 162.00 C115.57 158.62 118.87 153.93 122.50 150.50 C126.13 147.07 130.13 142.98 133.30 141.40 C136.47 139.82 139.02 140.62 141.50 141.00 C143.98 141.38 145.87 141.43 148.20 143.70 C150.53 145.97 152.25 150.22 155.50 154.60 C158.75 158.98 163.87 165.43 167.70 170.00 C171.53 174.57 174.70 177.83 178.50 182.00 C182.30 186.17 185.92 186.67 190.50 195.00 C195.08 203.33 200.88 219.45 206.00 232.00 C211.12 244.55 217.63 261.17 221.20 270.30 C224.77 279.43 224.58 281.50 227.40 286.80 C230.22 292.10 233.77 296.23 238.10 302.10 C242.43 307.97 248.83 316.65 253.40 322.00 C257.97 327.35 262.20 331.20 265.50 334.20 C268.80 337.20 270.63 337.83 273.20 340.00 C275.77 342.17 278.60 345.75 280.90 347.20 C283.20 348.65 284.20 348.57 287.00 348.70 C289.80 348.83 294.90 347.87 297.70 348.00 C300.50 348.13 302.00 348.53 303.80 349.50 C305.60 350.47 306.22 351.05 308.50 353.80 C310.78 356.55 314.45 362.57 317.50 366.00 C320.55 369.43 323.80 372.10 326.80 374.40 C329.80 376.70 332.50 377.38 335.50 379.80 C338.50 382.22 341.72 386.75 344.80 388.90 C347.88 391.05 351.18 391.93 354.00 392.70 C356.82 393.47 359.40 392.87 361.70 393.50 C364.00 394.13 365.77 395.75 367.80 396.50 C369.83 397.25 372.12 398.13 373.90 398.00 C375.68 397.87 376.47 398.12 378.50 395.70 C380.53 393.28 383.30 388.08 386.10 383.50 C388.90 378.92 391.73 373.68 395.30 368.20 C398.87 362.72 404.45 354.03 407.50 350.60 C410.55 347.17 411.82 349.12 413.60 347.60 C415.38 346.08 416.15 344.72 418.20 341.50 C420.25 338.28 423.08 331.77 425.90 328.30 C428.72 324.83 432.05 323.25 435.10 320.70 C438.15 318.15 441.15 315.93 444.20 313.00 C447.25 310.07 450.33 305.00 453.40 303.10 C456.47 301.20 459.53 302.48 462.60 301.60 C465.67 300.72 468.82 299.08 471.80 297.80 C474.78 296.52 477.38 297.03 480.50 293.90 C483.62 290.77 487.08 284.15 490.50 279.00 C493.92 273.85 497.85 268.93 501.00 263.00 C504.15 257.07 506.47 249.08 509.40 243.40 C512.33 237.72 515.80 232.22 518.60 228.90 C521.40 225.58 523.65 225.17 526.20 223.50 C528.75 221.83 531.08 221.32 533.90 218.90 C536.72 216.48 539.53 213.07 543.10 209.00 C546.67 204.93 551.23 198.70 555.30 194.50 C559.37 190.30 563.68 187.13 567.50 183.80 C571.32 180.47 574.37 177.20 578.20 174.50 C582.03 171.80 587.18 170.02 590.50 167.60 C593.82 165.18 595.30 163.32 598.10 160.00 C600.90 156.68 604.50 150.70 607.30 147.70 C610.10 144.70 612.60 143.07 614.90 142.00 C617.20 140.93 619.42 141.20 621.10 141.30 C622.78 141.40 622.83 141.75 625.00 142.60 C627.17 143.45 631.05 144.23 634.10 146.40 C637.15 148.57 639.73 152.17 643.30 155.60 C646.87 159.03 651.93 163.68 655.50 167.00 C659.07 170.32 661.63 172.05 664.70 175.50 C667.77 178.95 670.58 183.12 673.90 187.70 C677.22 192.28 681.13 198.40 684.60 203.00 C688.07 207.60 690.97 210.70 694.70 215.30 C698.43 219.90 703.43 225.63 707.00 230.60 C710.57 235.57 713.05 239.75 716.10 245.10 C719.15 250.45 723.00 257.47 725.30 262.70 C727.60 267.93 728.05 271.72 729.90 276.50 C731.75 281.28 734.05 285.85 736.40 291.40 C738.75 296.95 741.72 305.72 744.00 309.80 C746.28 313.88 747.80 313.48 750.10 315.90 C752.40 318.32 755.25 321.50 757.80 324.30 C760.35 327.10 762.73 329.90 765.40 332.70 C768.07 335.50 771.37 338.62 773.80 341.10 C776.23 343.58 777.18 344.22 780.00 347.60 C782.82 350.98 787.38 358.20 790.70 361.40 C794.02 364.60 796.83 365.27 799.90 366.80 C802.97 368.33 806.30 369.72 809.10 370.60 C811.90 371.48 814.42 371.22 816.70 372.10 C818.98 372.98 820.77 374.37 822.80 375.90 C824.83 377.43 826.85 379.13 828.90 381.30 C830.95 383.47 833.05 386.62 835.10 388.90 C837.15 391.18 839.17 393.33 841.20 395.00 C843.23 396.67 845.27 397.87 847.30 398.90 C849.33 399.93 851.10 400.70 853.40 401.20 C855.70 401.70 858.80 402.03 861.10 401.90 C863.40 401.77 865.30 401.55 867.20 400.40 C869.10 399.25 871.62 395.90 872.50 395.00" fill="none" stroke="#2a22f0" stroke-width="1" stroke-linejoin="round"/>
<path d="M0.50 151.80 C2.53 152.15 9.53 152.53 12.70 153.90 C15.87 155.27 17.03 157.07 19.50 160.00 C21.97 162.93 24.80 168.23 27.50 171.50 C30.20 174.77 32.53 175.02 35.70 179.60 C38.87 184.18 43.45 194.18 46.50 199.00 C49.55 203.82 51.73 208.05 54.00 208.50 C56.27 208.95 58.18 204.65 60.10 201.70 C62.02 198.75 63.23 194.42 65.50 190.80 C67.77 187.18 71.43 184.57 73.70 180.00 C75.97 175.43 77.30 168.40 79.10 163.40 C80.90 158.40 82.27 154.18 84.50 150.00 C86.73 145.82 89.78 139.68 92.50 138.30 C95.22 136.92 98.07 140.92 100.80 141.70 C103.53 142.48 106.45 141.20 108.90 143.00 C111.35 144.80 113.23 151.25 115.50 152.50 C117.77 153.75 120.00 151.28 122.50 150.50 C125.00 149.72 128.25 149.27 130.50 147.80 C132.75 146.33 134.17 142.83 136.00 141.70 C137.83 140.57 139.47 140.88 141.50 141.00 C143.53 141.12 145.87 139.73 148.20 142.40 C150.53 145.07 152.37 149.10 155.50 157.00 C158.63 164.90 163.17 178.97 167.00 189.80 C170.83 200.63 174.55 213.03 178.50 222.00 C182.45 230.97 186.37 235.55 190.70 243.60 C195.03 251.65 201.45 263.60 204.50 270.30 C207.55 277.00 206.47 277.22 209.00 283.80 C211.53 290.38 216.63 302.17 219.70 309.80 C222.77 317.43 224.85 324.77 227.40 329.60 C229.95 334.43 232.20 336.75 235.00 338.80 C237.80 340.85 241.13 341.90 244.20 341.90 C247.27 341.90 250.35 340.28 253.40 338.80 C256.45 337.32 259.97 333.52 262.50 333.00 C265.03 332.48 266.05 333.97 268.60 335.70 C271.15 337.43 274.98 340.20 277.80 343.40 C280.62 346.60 283.45 352.73 285.50 354.90 C287.55 357.07 288.07 355.77 290.10 356.40 C292.13 357.03 295.17 357.10 297.70 358.70 C300.23 360.30 302.50 363.00 305.30 366.00 C308.10 369.00 311.68 372.87 314.50 376.70 C317.32 380.53 319.43 385.57 322.20 389.00 C324.97 392.43 328.08 395.03 331.10 397.30 C334.12 399.57 337.50 401.15 340.30 402.60 C343.10 404.05 345.62 406.12 347.90 406.00 C350.18 405.88 351.70 403.57 354.00 401.90 C356.30 400.23 358.90 396.77 361.70 396.00 C364.50 395.23 368.52 397.60 370.80 397.30 C373.08 397.00 373.62 397.77 375.40 394.20 C377.18 390.63 379.20 383.55 381.50 375.90 C383.80 368.25 387.15 354.62 389.20 348.30 C391.25 341.98 391.77 344.00 393.80 338.00 C395.83 332.00 399.12 318.12 401.40 312.30 C403.68 306.48 405.47 305.52 407.50 303.10 C409.53 300.68 411.30 298.43 413.60 297.80 C415.90 297.17 418.75 297.90 421.30 299.30 C423.85 300.70 426.35 303.40 428.90 306.20 C431.45 309.00 434.05 314.83 436.60 316.10 C439.15 317.37 441.40 315.07 444.20 313.80 C447.00 312.53 450.33 310.15 453.40 308.50 C456.47 306.85 460.05 306.83 462.60 303.90 C465.15 300.97 466.42 295.37 468.70 290.90 C470.98 286.43 474.33 280.67 476.30 277.10 C478.27 273.53 478.55 272.68 480.50 269.50 C482.45 266.32 485.47 262.60 488.00 258.00 C490.53 253.40 492.90 249.18 495.70 241.90 C498.50 234.62 501.75 222.58 504.80 214.30 C507.85 206.02 511.18 197.03 514.00 192.20 C516.82 187.37 519.40 185.95 521.70 185.30 C524.00 184.65 525.52 186.27 527.80 188.30 C530.08 190.33 533.12 194.82 535.40 197.50 C537.68 200.18 539.72 202.73 541.50 204.40 C543.28 206.07 544.05 207.32 546.10 207.50 C548.15 207.68 551.75 206.78 553.80 205.50 C555.85 204.22 556.88 202.92 558.40 199.80 C559.92 196.68 561.38 191.27 562.90 186.80 C564.42 182.33 565.72 178.23 567.50 173.00 C569.28 167.77 571.30 161.13 573.60 155.40 C575.90 149.67 578.48 143.07 581.30 138.60 C584.12 134.13 587.18 130.60 590.50 128.60 C593.82 126.60 598.40 126.47 601.20 126.60 C604.00 126.73 605.27 127.78 607.30 129.40 C609.33 131.02 611.37 133.75 613.40 136.30 C615.43 138.85 616.95 141.00 619.50 144.70 C622.05 148.40 625.75 154.65 628.70 158.50 C631.65 162.35 634.77 164.22 637.20 167.80 C639.63 171.38 641.27 176.30 643.30 180.00 C645.33 183.70 647.37 188.00 649.40 190.00 C651.43 192.00 653.45 191.62 655.50 192.00 C657.55 192.38 659.65 191.48 661.70 192.30 C663.75 193.12 665.77 194.62 667.80 196.90 C669.83 199.18 671.70 203.57 673.90 206.00 C676.10 208.43 678.55 208.68 681.00 211.50 C683.45 214.32 686.57 219.33 688.60 222.90 C690.63 226.47 691.67 228.57 693.20 232.90 C694.73 237.23 696.02 244.45 697.80 248.90 C699.58 253.35 701.87 256.53 703.90 259.60 C705.93 262.67 707.97 263.73 710.00 267.30 C712.03 270.87 714.25 276.73 716.10 281.00 C717.95 285.27 718.73 286.58 721.10 292.90 C723.47 299.22 727.75 312.52 730.30 318.90 C732.85 325.28 734.12 325.08 736.40 331.20 C738.68 337.32 741.45 351.32 744.00 355.60 C746.55 359.88 749.15 357.28 751.70 356.90 C754.25 356.52 756.75 354.53 759.30 353.30 C761.85 352.07 764.70 350.52 767.00 349.50 C769.30 348.48 770.82 347.45 773.10 347.20 C775.38 346.95 777.90 345.37 780.70 348.00 C783.50 350.63 787.47 358.98 789.90 363.00 C792.33 367.02 793.38 369.05 795.30 372.10 C797.22 375.15 799.37 377.85 801.40 381.30 C803.43 384.75 805.47 390.25 807.50 392.80 C809.53 395.35 811.30 395.97 813.60 396.60 C815.90 397.23 818.75 396.35 821.30 396.60 C823.85 396.85 826.60 397.38 828.90 398.10 C831.20 398.82 833.32 400.08 835.10 400.90 C836.88 401.72 837.57 402.57 839.60 403.00 C841.63 403.43 845.00 403.05 847.30 403.50 C849.60 403.95 851.10 405.20 853.40 405.70 C855.70 406.20 859.07 407.25 861.10 406.50 C863.13 405.75 864.33 402.98 865.60 401.20 C866.87 399.42 867.55 397.80 868.70 395.80 C869.85 393.80 871.87 390.30 872.50 389.20" fill="none" stroke="#ec407a" stroke-width="1" stroke-linejoin="round"/>
<line x1="347.5" y1="496.5" x2="572.5" y2="89.5" stroke="#5d606b" stroke-width="1" stroke-dasharray="5 5"/>
<line x1="342.9" y1="320.2" x2="556.9" y2="88.1" stroke="#2878ff" stroke-width="2.2" stroke-linecap="round"/>
<line x1="402.8" y1="387.2" x2="598.4" y2="197.8" stroke="#2878ff" stroke-width="2.2" stroke-linecap="round"/>
<g shape-rendering="crispEdges" fill="#e0e3eb">
<rect x="1111" y="0" width="1" height="608"/>
<rect x="0" y="572" width="1181" height="1"/>
<rect x="2" y="0" width="1177" height="1"/>
</g>
<path d="M0.5 3 Q0.5 0.5 3 0.5 M1178 0.5 Q1180.5 0.5 1180.5 3" fill="none" stroke="#e0e3eb" stroke-width="1"/>
<g font-size="15.2" letter-spacing="0.35" fill="#131722">
<text x="1122.5" y="552.4">56.00</text>
<text x="1122.5" y="505.4">60.00</text>
<text x="1122.5" y="458.5">64.00</text>
<text x="1122.5" y="411.5">68.00</text>
<text x="1122.5" y="364.6">72.00</text>
<text x="1122.5" y="317.6">76.00</text>
<text x="1122.5" y="270.6">80.00</text>
<text x="1122.5" y="223.7">84.00</text>
<text x="1122.5" y="176.7">88.00</text>
<text x="1122.5" y="129.8">92.00</text>
<text x="1122.5" y="82.8">96.00</text>
<text x="1122.5" y="35.8">100.00</text>
</g>
<rect x="1112" y="1" width="69" height="34" fill="#fff"/>
<rect x="1115.5" y="5.5" width="61" height="25" rx="5" fill="#fff" stroke="#e0e3eb"/>
<text x="1119.5" y="23" font-size="14.2" fill="#131722">HKD</text>
<path d="M1167.2 16.9 l2.6 2.7 l2.6 -2.7" fill="none" stroke="#131722" stroke-width="1.2"/>
<path d="M1112 379 h53.5 a2 2 0 0 1 2 2 v20.5 h-55.5 z" fill="#ec3f74"/>
<path d="M1112 401.5 h55.5 v20 a2 2 0 0 1 -2 2 h-53.5 z" fill="#2a22f0"/>
<text x="1122" y="395.7" font-size="14.3" font-weight="bold" fill="#fff" textLength="39" lengthAdjust="spacingAndGlyphs">69.40</text>
<text x="1122" y="417.7" font-size="14.3" font-weight="bold" fill="#fff" textLength="38.5" lengthAdjust="spacingAndGlyphs">68.91</text>
<g font-size="15" fill="#131722" text-anchor="middle">
<text x="111.5" y="595">Nov</text>
<text x="418.5" y="595">Mar</text>
<text x="568.5" y="595">May</text>
<text x="718.5" y="595">Jul</text>
<text x="883.5" y="595">Sep</text>
<text x="1037.5" y="595">Nov</text>
<text x="265.5" y="595" font-weight="bold" letter-spacing="1">2024</text>
</g>
<path d="M1142.6 584.3 H1150.4 L1153.6 590.3 L1150.4 596.3 H1142.6 L1139.4 590.3 Z" fill="none" stroke="#131722" stroke-width="1.2"/>
<circle cx="1146.5" cy="590.3" r="1.9" fill="none" stroke="#131722" stroke-width="1.2"/>
<circle cx="17" cy="17" r="9" fill="#f0f3fa"/>
<path d="M11.5 13.3 C15 12.8 18.5 12.8 20.2 14.2 C21.5 15.3 22.5 17 23 19 L21.3 19.4 C20.5 17.5 19.5 16.3 18 15.6 C16 14.8 13.5 15 11.5 15.2 Z" fill="#e0141e"/>
<path d="M13.3 17.2 H19 L17.8 19.8 H12.1 Z" fill="#111"/>
<text x="30.5" y="23" font-size="14.2" fill="#131722">2020 · 1D · HKEX</text>
<circle cx="167" cy="17" r="9" fill="#ffcc80"/>
<text x="167" y="21.8" font-size="13" font-weight="bold" fill="#f57c00" text-anchor="middle">D</text>
<g font-size="13.4" fill="#f23645"><text y="23"><tspan x="192" font-size="12" fill="#131722">O</tspan><tspan x="202" textLength="31.5" lengthAdjust="spacingAndGlyphs">77.00</tspan><tspan x="240.5" font-size="12" fill="#131722">H</tspan><tspan x="249.6" textLength="31.5" lengthAdjust="spacingAndGlyphs">80.30</tspan><tspan x="288.6" font-size="12" fill="#131722">L</tspan><tspan x="295.6" textLength="30.5" lengthAdjust="spacingAndGlyphs">75.85</tspan><tspan x="333.5" font-size="12" fill="#131722">C</tspan><tspan x="341.8" textLength="31.5" lengthAdjust="spacingAndGlyphs">76.10</tspan><tspan x="380.4" textLength="30.3" lengthAdjust="spacingAndGlyphs">+4.45</tspan><tspan x="416.6" textLength="48" lengthAdjust="spacingAndGlyphs">(+6.21%)</tspan></text></g>
<rect x="8.5" y="31.5" width="31" height="20" rx="3" fill="#fff" stroke="#e0e3eb"/>
<path d="M15 40 l3.5 3.5 l3.5 -3.5" fill="none" stroke="#131722" stroke-width="1.3"/>
<text x="27" y="46.5" font-size="13" fill="#131722">2</text>
<g fill="#131722">
<path d="M11.15 543.1 H22.7 V557.7 H17 V548.8 H11.15 Z"/>
<circle cx="27.9" cy="545.9" r="2.8"/>
<path d="M33.9 543.1 H40.8 L34.9 557.7 H28.2 Z"/>
<text x="48" y="557.7" font-size="20" font-weight="bold" letter-spacing="0.3">TradingView</text>
</g>
</svg>
</body></html>
